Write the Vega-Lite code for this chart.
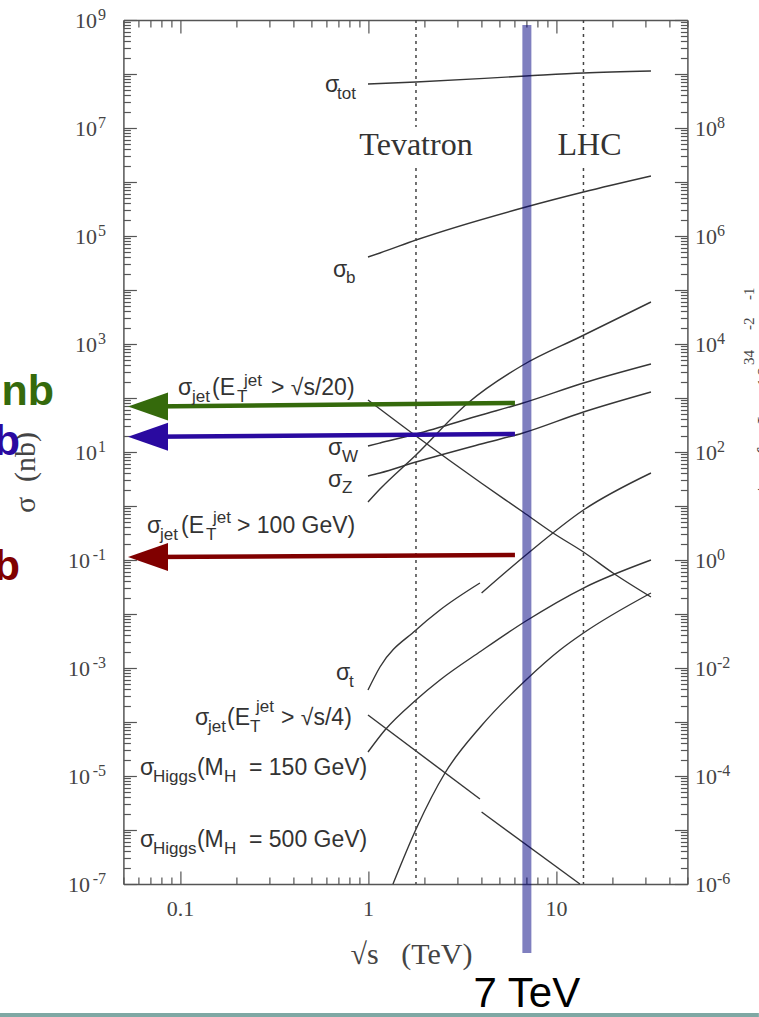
{
"$schema":"https://vega.github.io/schema/vega-lite/v6.json",
"width":564,"height":864,
"autosize":{"type":"none"},
"padding":{"left":123.4,"top":20,"right":71.6,"bottom":133},
"background":"white",
"config":{"view":{"stroke":null},"axis":{"grid":false,"domainColor":"#555555","domainWidth":1.5,"tickColor":"#555555","tickWidth":1.2,"labelFont":"Liberation Serif","labelFontSize":22,"labelColor":"#444444","titleFont":"Liberation Serif","titleFontWeight":"normal","titleColor":"#444444","labelOverlap":false,"labelFlush":false,"labelBound":false}},
"datasets":{
"curves":[
{"s":"tot","x":1,"y":6.53e7},{"s":"tot","x":1.8,"y":7.11e7},{"s":"tot","x":6.92,"y":9.18e7},{"s":"tot","x":14,"y":1.043e8},{"s":"tot","x":32,"y":1.137e8},
{"s":"b","x":1,"y":4.085e4},{"s":"b","x":1.158,"y":4.844e4},{"s":"b","x":1.8,"y":8.43e4},{"s":"b","x":6.92,"y":3.444e5},{"s":"b","x":14,"y":6.53e5},{"s":"b","x":32,"y":1.292e6},
{"s":"j20","x":1,"y":91.8},{"s":"j20","x":1.8,"y":19.78},{"s":"j20","x":4,"y":2.667},{"s":"j20","x":6.675,"y":0.774},{"s":"j20","x":9.64,"y":0.3162},{"s":"j20","x":14,"y":0.1406},{"s":"j20","x":20.1,"y":0.0574},{"s":"j20","x":32,"y":0.02065},
{"s":"W","x":1,"y":12.91},{"s":"W","x":1.158,"y":14.68},{"s":"W","x":1.8,"y":21.54},{"s":"W","x":4,"y":48.4},{"s":"W","x":6.675,"y":80.8},{"s":"W","x":14,"y":189.6},{"s":"W","x":32,"y":426},
{"s":"Z","x":1,"y":3.594},{"s":"Z","x":1.158,"y":4.085},{"s":"Z","x":1.8,"y":6.53},{"s":"Z","x":4,"y":14.07},{"s":"Z","x":6.675,"y":22.48},{"s":"Z","x":14,"y":55.05},{"s":"Z","x":32,"y":129.2},
{"s":"j100","x":1,"y":1.186},{"s":"j100","x":1.158,"y":2.064},{"s":"j100","x":1.8,"y":8.8},{"s":"j100","x":3.4,"y":80.8},{"s":"j100","x":6.675,"y":408.4},{"s":"j100","x":13.4,"y":1348},{"s":"j100","x":32,"y":5995},
{"s":"t1","x":1,"y":3.914e-4},{"s":"t1","x":1.158,"y":1.043e-3},{"s":"t1","x":1.8,"y":5.053e-3},{"s":"t1","x":2.415,"y":0.01186},{"s":"t1","x":3.94,"y":0.0375},
{"s":"t2","x":4.02,"y":0.02448},{"s":"t2","x":6.92,"y":0.1238},{"s":"t2","x":14,"y":0.843},{"s":"t2","x":32,"y":4.085},
{"s":"j4a","x":1,"y":1.348e-4},{"s":"j4a","x":3.94,"y":3.75e-6},
{"s":"j4b","x":4.02,"y":2.154e-6},{"s":"j4b","x":13.4,"y":1e-7},
{"s":"h150","x":1,"y":2.782e-5},{"s":"h150","x":1.231,"y":7.11e-5},{"s":"h150","x":1.8,"y":2.555e-4},{"s":"h150","x":2.415,"y":5.995e-4},{"s":"h150","x":4,"y":2.065e-3},{"s":"h150","x":6.92,"y":7.42e-3},{"s":"h150","x":14,"y":0.0303},{"s":"h150","x":32,"y":0.1},
{"s":"h500","x":1.358,"y":1e-7},{"s":"h500","x":1.823,"y":1.136e-6},{"s":"h500","x":2.568,"y":1.136e-5},{"s":"h500","x":4,"y":8.43e-5},{"s":"h500","x":6.92,"y":5.995e-4},{"s":"h500","x":10.5,"y":2.154e-3},{"s":"h500","x":14,"y":4.446e-3},{"s":"h500","x":32,"y":0.02448}
],
"dots":[{"x":1.8,"y":1e9,"y2":1.044e7},{"x":1.8,"y":1.817e6,"y2":1e-7},{"x":14,"y":1e9,"y2":1.044e7},{"x":14,"y":1.817e6,"y2":1e-7}],
"arrows":[{"q":"W","x":0.0676,"x2":6.05,"y":69.6,"y2":80.8},{"q":"Z","x":0.0676,"x2":6.05,"y":19.2,"y2":21.54},{"q":"t","x":0.0676,"x2":6.05,"y":0.1136,"y2":0.1238}],
"band":[{"x":7,"y":8.08e8,"y2":5.27e-9}],
"ylab":[
{"side":"L","v":1e9,"e":"9"},{"side":"L","v":1e7,"e":"7"},{"side":"L","v":1e5,"e":"5"},{"side":"L","v":1e3,"e":"3"},{"side":"L","v":10,"e":"1"},{"side":"L","v":0.1,"e":"-1"},{"side":"L","v":1e-3,"e":"-3"},{"side":"L","v":1e-5,"e":"-5"},{"side":"L","v":1e-7,"e":"-7"},
{"side":"R","v":1e7,"e":"8"},{"side":"R","v":1e5,"e":"6"},{"side":"R","v":1e3,"e":"4"},{"side":"R","v":10,"e":"2"},{"side":"R","v":0.1,"e":"0"},{"side":"R","v":1e-3,"e":"-2"},{"side":"R","v":1e-5,"e":"-4"},{"side":"R","v":1e-7,"e":"-6"}
],
"labels":[
{"t":"σ","k":"m","x":0.5904,"y":4.64e7},{"t":"tot","k":"s","x":0.684,"y":3.44e7},
{"t":"σ","k":"m","x":0.6513,"y":1.74e4},{"t":"b","k":"s","x":0.7636,"y":1.348e4},
{"t":"σ","k":"m","x":0.09759,"y":113.6},{"t":"jet","k":"s","x":0.1158,"y":84.3},{"t":"(E","k":"m","x":0.148,"y":113.6},{"t":"T","k":"s","x":0.201,"y":84.3},{"t":"jet","k":"p","x":0.219,"y":166.8},{"t":"> √s/20)","k":"m","x":0.3048,"y":113.6},
{"t":"σ","k":"m","x":0.6126,"y":8.8},{"t":"W","k":"s","x":0.7273,"y":6.53},
{"t":"σ","k":"m","x":0.6126,"y":2.248},{"t":"Z","k":"s","x":0.7273,"y":1.741},
{"t":"σ","k":"m","x":0.06675,"y":0.3162},{"t":"jet","k":"s","x":0.0782,"y":0.2346},{"t":"(E","k":"m","x":0.1012,"y":0.3162},{"t":"T","k":"s","x":0.1375,"y":0.2346},{"t":"jet","k":"p","x":0.1498,"y":0.4843},{"t":"> 100 GeV)","k":"m","x":0.201,"y":0.3162},
{"t":"σ","k":"m","x":0.6757,"y":5.995e-4},{"t":"t","k":"s","x":0.7924,"y":4.446e-4},
{"t":"σ","k":"m","x":0.1202,"y":8.8e-5},{"t":"jet","k":"s","x":0.1409,"y":6.53e-5},{"t":"(E","k":"m","x":0.1778,"y":8.8e-5},{"t":"T","k":"s","x":0.2357,"y":6.53e-5},{"t":"jet","k":"p","x":0.2537,"y":1.532e-4},{"t":"> √s/4)","k":"m","x":0.3446,"y":8.8e-5},
{"t":"σ","k":"m","x":0.06126,"y":1.043e-5},{"t":"Higgs","k":"s","x":0.07186,"y":7.74e-6},{"t":"(M","k":"m","x":0.1231,"y":1.043e-5},{"t":"H","k":"s","x":0.1714,"y":7.74e-6},{"t":"= 150 GeV)","k":"m","x":0.2328,"y":1.043e-5},
{"t":"σ","k":"m","x":0.06126,"y":4.844e-7},{"t":"Higgs","k":"s","x":0.07186,"y":3.594e-7},{"t":"(M","k":"m","x":0.1231,"y":4.844e-7},{"t":"H","k":"s","x":0.1714,"y":3.594e-7},{"t":"= 500 GeV)","k":"m","x":0.2328,"y":4.844e-7}
],
"notes":[{"t":"Tevatron","x":1.8,"y":3.16e6},{"t":"LHC","x":15.07,"y":3.16e6}],
"big":[{"q":"W","t":"σ ≈ 70 nb","x":0.02137,"y":74.2},{"q":"Z","t":"σ ≈ 20 nb","x":0.01409,"y":8.8},{"q":"t","t":"σ ≈ 0.1 nb","x":0.01409,"y":0.04262}],
"rtm":[{"t":"events/sec for L = 10","x":140.9,"y":0.1468},{"t":"cm","x":140.9,"y":879.9},{"t":"s","x":140.9,"y":3751}],
"rts":[{"t":"34","x":113,"y":408.4},{"t":"-2","x":113,"y":1817},{"t":"-1","x":113,"y":6530}],
"seven":[{"t":"7 TeV","x":7,"y":5.275e-10}],
"teal":[{"x":0.011,"x2":120,"y":3.75e-10}]
},
"layer":[
{"data":{"name":"curves"},"mark":{"type":"line","stroke":"#363636","strokeWidth":1.4,"interpolate":"monotone"},
"encoding":{
"x":{"field":"x","type":"quantitative","scale":{"type":"log","domain":[0.05,50],"nice":false},
"axis":{"orient":"bottom","values":[0.05,0.06,0.07,0.08,0.09,0.1,0.2,0.3,0.4,0.5,0.6,0.7,0.8,0.9,1,2,3,4,5,6,7,8,9,10,20,30,40,50],
"labelExpr":"datum.value == 0.1 ? '0.1' : datum.value == 1 ? '1' : datum.value == 10 ? '10' : ''",
"tickSize":{"condition":{"test":"indexof([0.1,1,10], datum.value) >= 0","value":-13},"value":-7},
"labelBaseline":"alphabetic","labelPadding":44,
"title":"√s\u00a0\u00a0\u00a0(TeV)","titleFontSize":30,"titleX":287.6,"titleY":79,"titleBaseline":"alphabetic","titleAlign":"center"}},
"y":{"field":"y","type":"quantitative","scale":{"type":"log","domain":[1e-7,1e9],"nice":false},
"axis":{"orient":"left","values":[1e-7,2e-7,3e-7,4e-7,5e-7,6e-7,7e-7,8e-7,9e-7,1e-6,2e-6,3e-6,4e-6,5e-6,6e-6,7e-6,8e-6,9e-6,1e-5,2e-5,3e-5,4e-5,5e-5,6e-5,7e-5,8e-5,9e-5,1e-4,2e-4,3e-4,4e-4,5e-4,6e-4,7e-4,8e-4,9e-4,1e-3,2e-3,3e-3,4e-3,5e-3,6e-3,7e-3,8e-3,9e-3,0.01,0.02,0.03,0.04,0.05,0.06,0.07,0.08,0.09,0.1,0.2,0.3,0.4,0.5,0.6,0.7,0.8,0.9,1,2,3,4,5,6,7,8,9,10,20,30,40,50,60,70,80,90,100,200,300,400,500,600,700,800,900,1000,2000,3000,4000,5000,6000,7000,8000,9000,1e4,2e4,3e4,4e4,5e4,6e4,7e4,8e4,9e4,1e5,2e5,3e5,4e5,5e5,6e5,7e5,8e5,9e5,1e6,2e6,3e6,4e6,5e6,6e6,7e6,8e6,9e6,1e7,2e7,3e7,4e7,5e7,6e7,7e7,8e7,9e7,1e8,2e8,3e8,4e8,5e8,6e8,7e8,8e8,9e8,1e9],
"labels":false,
"tickSize":{"condition":{"test":"abs(log(datum.value)/LN10 - round(log(datum.value)/LN10)) < 0.001","value":-13},"value":-7},
"title":"σ\u00a0\u00a0(nb)","titleFontSize":30,"titleAngle":270,"titleX":-88.8,"titleY":452,"titleBaseline":"alphabetic","titleAlign":"center"}},
"detail":{"field":"s","type":"nominal"}}},
{"data":{"name":"dots"},"mark":{"type":"rule","stroke":"#444444","strokeWidth":1.5,"strokeDash":[3,4]},
"encoding":{
"x":{"field":"x","type":"quantitative","scale":{"type":"log","domain":[0.05,50],"nice":false},
"axis":{"orient":"top","values":[0.05,0.06,0.07,0.08,0.09,0.1,0.2,0.3,0.4,0.5,0.6,0.7,0.8,0.9,1,2,3,4,5,6,7,8,9,10,20,30,40,50],"labels":false,"title":null,
"tickSize":{"condition":{"test":"indexof([0.1,1,10], datum.value) >= 0","value":-13},"value":-7}}},
"y":{"field":"y","type":"quantitative","scale":{"type":"log","domain":[1e-7,1e9],"nice":false},
"axis":{"orient":"right","values":[1e-7,2e-7,3e-7,4e-7,5e-7,6e-7,7e-7,8e-7,9e-7,1e-6,2e-6,3e-6,4e-6,5e-6,6e-6,7e-6,8e-6,9e-6,1e-5,2e-5,3e-5,4e-5,5e-5,6e-5,7e-5,8e-5,9e-5,1e-4,2e-4,3e-4,4e-4,5e-4,6e-4,7e-4,8e-4,9e-4,1e-3,2e-3,3e-3,4e-3,5e-3,6e-3,7e-3,8e-3,9e-3,0.01,0.02,0.03,0.04,0.05,0.06,0.07,0.08,0.09,0.1,0.2,0.3,0.4,0.5,0.6,0.7,0.8,0.9,1,2,3,4,5,6,7,8,9,10,20,30,40,50,60,70,80,90,100,200,300,400,500,600,700,800,900,1000,2000,3000,4000,5000,6000,7000,8000,9000,1e4,2e4,3e4,4e4,5e4,6e4,7e4,8e4,9e4,1e5,2e5,3e5,4e5,5e5,6e5,7e5,8e5,9e5,1e6,2e6,3e6,4e6,5e6,6e6,7e6,8e6,9e6,1e7,2e7,3e7,4e7,5e7,6e7,7e7,8e7,9e7,1e8,2e8,3e8,4e8,5e8,6e8,7e8,8e8,9e8,1e9],
"labels":false,
"tickSize":{"condition":{"test":"abs(log(datum.value)/LN10 - round(log(datum.value)/LN10)) < 0.001","value":-13},"value":-7},
"title":null}},
"y2":{"field":"y2"}}},
{"data":{"name":"ylab"},"transform":[{"filter":"datum.side == 'L' && indexof(datum.e, '-') < 0"}],
"mark":{"type":"text","font":"Liberation Serif","fontSize":22,"fill":"#444444","align":"right","baseline":"alphabetic","dx":-26.4,"dy":8},
"encoding":{
"x":{"datum":0.05,"type":"quantitative","scale":{"type":"log","domain":[0.05,50],"nice":false},"axis":null},
"y":{"field":"v","type":"quantitative","scale":{"type":"log","domain":[1e-7,1e9],"nice":false},"axis":null},
"text":{"value":"10"}}},
{"data":{"name":"ylab"},"transform":[{"filter":"datum.side == 'L' && indexof(datum.e, '-') >= 0"}],
"mark":{"type":"text","font":"Liberation Serif","fontSize":22,"fill":"#444444","align":"right","baseline":"alphabetic","dx":-33.4,"dy":8},
"encoding":{
"x":{"datum":0.05,"type":"quantitative","scale":{"type":"log","domain":[0.05,50],"nice":false},"axis":null},
"y":{"field":"v","type":"quantitative","scale":{"type":"log","domain":[1e-7,1e9],"nice":false},"axis":null},
"text":{"value":"10"}}},
{"data":{"name":"ylab"},"transform":[{"filter":"datum.side == 'L'"}],
"mark":{"type":"text","font":"Liberation Serif","fontSize":16,"fill":"#444444","align":"right","baseline":"alphabetic","dx":-17.4,"dy":0},
"encoding":{
"x":{"datum":0.05,"type":"quantitative","scale":{"type":"log","domain":[0.05,50],"nice":false},"axis":null},
"y":{"field":"v","type":"quantitative","scale":{"type":"log","domain":[1e-7,1e9],"nice":false},"axis":null},
"text":{"field":"e"}}},
{"data":{"name":"ylab"},"transform":[{"filter":"datum.side == 'R'"}],
"mark":{"type":"text","font":"Liberation Serif","fontSize":22,"fill":"#444444","align":"left","baseline":"alphabetic","dx":7.6,"dy":8},
"encoding":{
"x":{"datum":50,"type":"quantitative","scale":{"type":"log","domain":[0.05,50],"nice":false},"axis":null},
"y":{"field":"v","type":"quantitative","scale":{"type":"log","domain":[1e-7,1e9],"nice":false},"axis":null},
"text":{"value":"10"}}},
{"data":{"name":"ylab"},"transform":[{"filter":"datum.side == 'R'"}],
"mark":{"type":"text","font":"Liberation Serif","fontSize":16,"fill":"#444444","align":"left","baseline":"alphabetic","dx":29.6,"dy":0},
"encoding":{
"x":{"datum":50,"type":"quantitative","scale":{"type":"log","domain":[0.05,50],"nice":false},"axis":null},
"y":{"field":"v","type":"quantitative","scale":{"type":"log","domain":[1e-7,1e9],"nice":false},"axis":null},
"text":{"field":"e"}}},
{"data":{"name":"arrows"},"mark":{"type":"rule","strokeWidth":4.5},
"encoding":{
"x":{"field":"x","type":"quantitative","scale":{"type":"log","domain":[0.05,50],"nice":false},"axis":null},
"x2":{"field":"x2"},
"y":{"field":"y","type":"quantitative","scale":{"type":"log","domain":[1e-7,1e9],"nice":false},"axis":null},
"y2":{"field":"y2"},
"color":{"field":"q","type":"nominal","scale":{"domain":["W","Z","t"],"range":["#356a0c","#2a0aa0","#800000"]},"legend":null}}},
{"data":{"name":"arrows"},"mark":{"type":"point","shape":"M1,-0.7L-1,0L1,0.7Z","size":1600,"filled":true,"opacity":1},
"encoding":{
"x":{"field":"x","type":"quantitative","scale":{"type":"log","domain":[0.05,50],"nice":false},"axis":null},
"y":{"field":"y","type":"quantitative","scale":{"type":"log","domain":[1e-7,1e9],"nice":false},"axis":null},
"color":{"field":"q","type":"nominal","scale":{"domain":["W","Z","t"],"range":["#356a0c","#2a0aa0","#800000"]},"legend":null}}},
{"data":{"name":"band"},"mark":{"type":"rule","stroke":"#000080","strokeOpacity":0.5,"strokeWidth":9},
"encoding":{
"x":{"field":"x","type":"quantitative","scale":{"type":"log","domain":[0.05,50],"nice":false},"axis":null},
"y":{"field":"y","type":"quantitative","scale":{"type":"log","domain":[1e-7,1e9],"nice":false},"axis":null},
"y2":{"field":"y2"}}},
{"data":{"name":"labels"},"transform":[{"filter":"datum.k == 'm'"}],"mark":{"type":"text","font":"Liberation Sans","fontSize":23,"fill":"#333333","align":"left","baseline":"alphabetic"},
"encoding":{
"x":{"field":"x","type":"quantitative","scale":{"type":"log","domain":[0.05,50],"nice":false},"axis":null},
"y":{"field":"y","type":"quantitative","scale":{"type":"log","domain":[1e-7,1e9],"nice":false},"axis":null},
"text":{"field":"t"}}},
{"data":{"name":"labels"},"transform":[{"filter":"datum.k != 'm'"}],"mark":{"type":"text","font":"Liberation Sans","fontSize":17,"fill":"#333333","align":"left","baseline":"alphabetic"},
"encoding":{
"x":{"field":"x","type":"quantitative","scale":{"type":"log","domain":[0.05,50],"nice":false},"axis":null},
"y":{"field":"y","type":"quantitative","scale":{"type":"log","domain":[1e-7,1e9],"nice":false},"axis":null},
"text":{"field":"t"}}},
{"data":{"name":"notes"},"mark":{"type":"text","font":"Liberation Serif","fontSize":32,"fill":"#333333","align":"center","baseline":"alphabetic"},
"encoding":{
"x":{"field":"x","type":"quantitative","scale":{"type":"log","domain":[0.05,50],"nice":false},"axis":null},
"y":{"field":"y","type":"quantitative","scale":{"type":"log","domain":[1e-7,1e9],"nice":false},"axis":null},
"text":{"field":"t"}}},
{"data":{"name":"big"},"mark":{"type":"text","font":"Liberation Sans","fontSize":43,"fontWeight":"bold","align":"right","baseline":"alphabetic"},
"encoding":{
"x":{"field":"x","type":"quantitative","scale":{"type":"log","domain":[0.05,50],"nice":false},"axis":null},
"y":{"field":"y","type":"quantitative","scale":{"type":"log","domain":[1e-7,1e9],"nice":false},"axis":null},
"text":{"field":"t"},
"color":{"field":"q","type":"nominal","scale":{"domain":["W","Z","t"],"range":["#356a0c","#2a0aa0","#800000"]},"legend":null}}},
{"data":{"name":"rtm"},"mark":{"type":"text","font":"Liberation Serif","fontSize":22,"fill":"#444444","align":"left","baseline":"alphabetic","angle":270},
"encoding":{
"x":{"field":"x","type":"quantitative","scale":{"type":"log","domain":[0.05,50],"nice":false},"axis":null},
"y":{"field":"y","type":"quantitative","scale":{"type":"log","domain":[1e-7,1e9],"nice":false},"axis":null},
"text":{"field":"t"}}},
{"data":{"name":"rts"},"mark":{"type":"text","font":"Liberation Serif","fontSize":15,"fill":"#444444","align":"left","baseline":"alphabetic","angle":270},
"encoding":{
"x":{"field":"x","type":"quantitative","scale":{"type":"log","domain":[0.05,50],"nice":false},"axis":null},
"y":{"field":"y","type":"quantitative","scale":{"type":"log","domain":[1e-7,1e9],"nice":false},"axis":null},
"text":{"field":"t"}}},
{"data":{"name":"seven"},"mark":{"type":"text","font":"Liberation Sans","fontSize":42,"fill":"#000000","align":"center","baseline":"alphabetic"},
"encoding":{
"x":{"field":"x","type":"quantitative","scale":{"type":"log","domain":[0.05,50],"nice":false},"axis":null},
"y":{"field":"y","type":"quantitative","scale":{"type":"log","domain":[1e-7,1e9],"nice":false},"axis":null},
"text":{"field":"t"}}},
{"data":{"name":"teal"},"mark":{"type":"rule","stroke":"#7fa8a4","strokeWidth":4},
"encoding":{
"x":{"field":"x","type":"quantitative","scale":{"type":"log","domain":[0.05,50],"nice":false},"axis":null},
"x2":{"field":"x2"},
"y":{"field":"y","type":"quantitative","scale":{"type":"log","domain":[1e-7,1e9],"nice":false},"axis":null}}}
]
}
